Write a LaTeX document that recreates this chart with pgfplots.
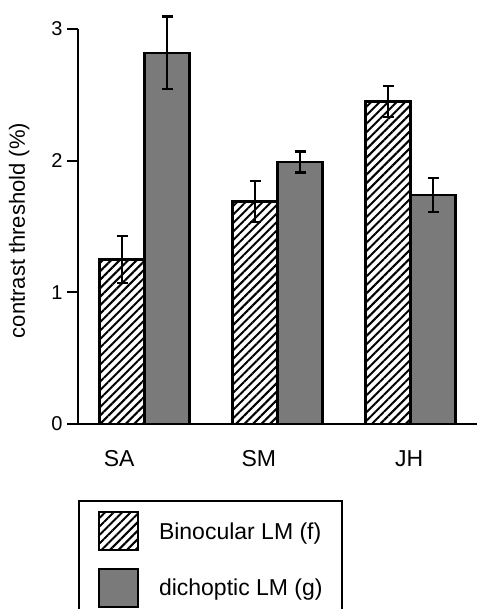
\documentclass[border=0pt]{standalone}
\usepackage{fontspec}
\setmainfont{Liberation Sans}
\usepackage{pgfplots}
\pgfplotsset{compat=1.18}
\usetikzlibrary{patterns.meta}

\begin{document}
\begin{tikzpicture}
\begin{axis}[
    scale only axis,
    width=399pt, height=395pt,
    xmin=-0.5, xmax=2.5,
    ymin=0, ymax=3,
    axis x line*=bottom, axis y line*=left,
    axis line style={line width=2pt},
    ybar=0pt, bar width=45pt,
    ytick={0,1,2,3},
    /pgf/number format/assume math mode=true,
    yticklabel style={font=\fontsize{20}{24}\selectfont, xshift=-1pt},
    ytick style={line width=2pt, black},
    major tick length=11pt,
    tick align=outside,
    xtick={-0.19,0.86,1.99},
    xticklabels={SA,SM,JH},
    xtick style={draw=none},
    xticklabel style={font=\fontsize{23}{27}\selectfont, yshift=-12pt},
    extra x ticks={-0.5,0.5,1.5},
    extra x tick labels={},
    extra x tick style={tick style={draw=black, line width=2pt}, major tick length=11pt},
    ylabel={contrast threshold (\%)},
    ylabel style={font=\fontsize{22}{26}\selectfont,
        at={(axis description cs:-0.113,0.49)}, anchor=south},
    clip=false,
    legend style={
        at={(axis cs:-0.5,0)}, anchor=north west, yshift=-76pt,
        draw=black, line width=2pt,
        inner xsep=19pt, inner ysep=10pt,
        row sep=16.5pt, column sep=0pt,
        font=\fontsize{23}{27}\selectfont,
        nodes={inner sep=0pt, text depth=0pt},
        /tikz/every odd column/.append style={column sep=20pt},
    },
    legend cell align=left,
    legend image code/.code={\draw[#1, line width=2pt] (0pt,-19pt) rectangle (39pt,19pt);},
]
\addplot[draw=black, line width=2.2pt,
    pattern={Lines[angle=45, distance=6pt, line width=2pt]}, pattern color=black,
    error bars/.cd, y dir=both, y explicit,
    error bar style={line width=2.2pt, black},
    error mark options={rotate=90, mark size=5.5pt, line width=2.2pt, black}]
coordinates {
    (0,1.25) +- (0,0.18)
    (1,1.69) +- (0,0.155)
    (2,2.45) +- (0,0.12)
};
\addlegendentry{Binocular LM (f)}
\addplot[draw=black, line width=2.2pt, fill=black!52,
    error bars/.cd, y dir=both, y explicit,
    error bar style={line width=2.2pt, black},
    error mark options={rotate=90, mark size=5.5pt, line width=2.2pt, black}]
coordinates {
    (0,2.82) +- (0,0.275)
    (1,1.99) +- (0,0.08)
    (2,1.74) +- (0,0.13)
};
\addlegendentry{dichoptic LM (g)}
\coordinate (o) at (axis cs:-0.5,0);
\end{axis}
\pgfresetboundingbox
\path[use as bounding box] ([xshift=-78pt, yshift=424pt]o) rectangle ([xshift=398pt, yshift=-185pt]o);
\end{tikzpicture}
\end{document}
